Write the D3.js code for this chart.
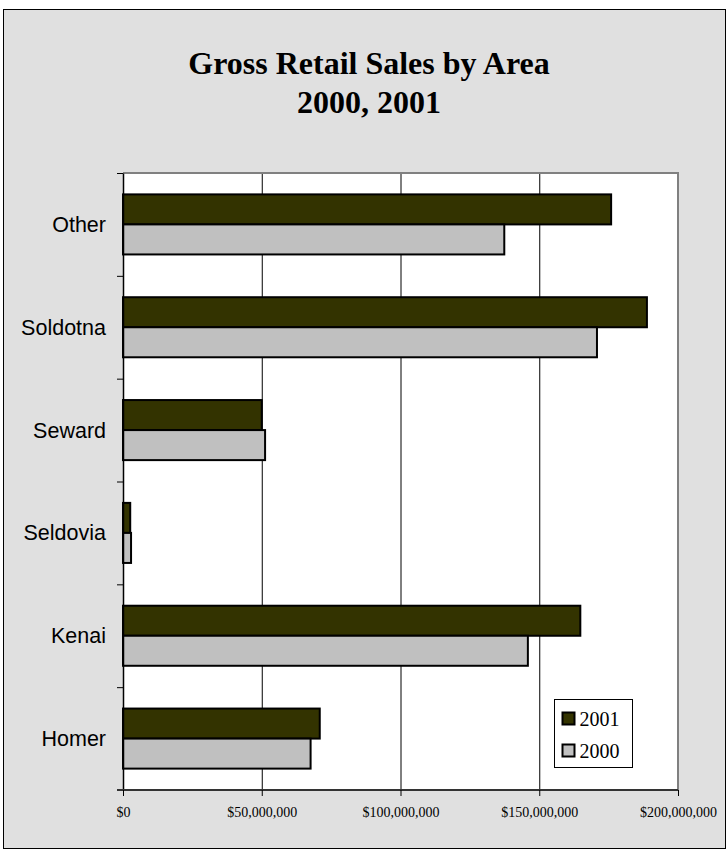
<!DOCTYPE html>
<html>
<head>
<meta charset="utf-8">
<script src="https://cdn.jsdelivr.net/npm/d3@7"></script>
<style>
  html, body { margin: 0; padding: 0; background: #ffffff; }
  svg { display: block; }
</style>
</head>
<body>
<div id="chart"></div>
<script>
// ---- data ----
const categories = ["Other", "Soldotna", "Seward", "Seldovia", "Kenai", "Homer"];
const seriesNames = ["2001", "2000"];
const values2001 = [175.9e6, 188.8e6, 50.0e6, 2.6e6, 164.8e6, 70.9e6];
const values2000 = [137.4e6, 170.8e6, 51.2e6, 2.9e6, 145.9e6, 67.6e6];
const tickValues = [0, 50e6, 100e6, 150e6, 200e6];
const tickLabels = ["$0", "$50,000,000", "$100,000,000", "$150,000,000", "$200,000,000"];
const titleLines = ["Gross Retail Sales by Area", "2000, 2001"];
const seriesColors = ["#333300", "#c0c0c0"];

const W = 728, H = 855;
const plot = { left: 123, top: 173, right: 678, bottom: 790 };

const svg = d3.select("#chart").append("svg")
  .attr("width", W).attr("height", H);

// outer frame
svg.append("rect")
  .attr("x", 3.5).attr("y", 9.5)
  .attr("width", 722).attr("height", 839)
  .attr("fill", "#e0e0e0").attr("stroke", "#000").attr("stroke-width", 1);

// title
const title = svg.append("text")
  .attr("text-anchor", "middle")
  .attr("font-family", "'Liberation Serif', 'Times New Roman', serif")
  .attr("font-weight", "bold")
  .attr("font-size", 32)
  .attr("fill", "#000");
titleLines.forEach((t, i) => {
  title.append("tspan").attr("x", 369).attr("y", 74 + i * 39).text(t);
});

// scales
const x = d3.scaleLinear().domain([0, 200e6]).range([plot.left, plot.right]);
const y = d3.scaleBand().domain(categories).range([plot.top, plot.bottom])
  .paddingInner(0.416).paddingOuter(0.208);
const ySub = d3.scaleBand().domain(seriesNames).range([0, y.bandwidth()]);

// plot background
svg.append("rect")
  .attr("x", plot.left).attr("y", plot.top)
  .attr("width", plot.right - plot.left).attr("height", plot.bottom - plot.top)
  .attr("fill", "#ffffff");

// gridlines
svg.append("g").selectAll("line")
  .data(tickValues.slice(1, -1))
  .join("line")
  .attr("x1", d => x(d) + 0.5).attr("x2", d => x(d) + 0.5)
  .attr("y1", plot.top).attr("y2", plot.bottom)
  .attr("stroke", "#000").attr("stroke-width", 1);

// plot border top/right
svg.append("path")
  .attr("d", `M${plot.left},${plot.top} H${plot.right} V${plot.bottom}`)
  .attr("fill", "none").attr("stroke", "#808080").attr("stroke-width", 2);

// bars
const rows = categories.map((c, i) => ({ cat: c, vals: [values2001[i], values2000[i]] }));
const groups = svg.append("g").selectAll("g")
  .data(rows).join("g")
  .attr("transform", d => `translate(0,${y(d.cat)})`);
groups.selectAll("rect")
  .data(d => d.vals.map((v, j) => ({ v, s: seriesNames[j], c: seriesColors[j] })))
  .join("rect")
  .attr("x", x(0))
  .attr("y", d => ySub(d.s))
  .attr("width", d => x(d.v) - x(0))
  .attr("height", ySub.bandwidth())
  .attr("fill", d => d.c)
  .attr("stroke", "#000").attr("stroke-width", 2);

// left axis (ticks at band boundaries)
const yIdx = d3.scaleLinear().domain([0, categories.length]).range([plot.top, plot.bottom]);
const leftAxis = svg.append("g")
  .attr("transform", `translate(${plot.left},0)`)
  .call(d3.axisLeft(yIdx).ticks(categories.length).tickSize(6).tickSizeOuter(0).tickFormat(""));
leftAxis.select(".domain").attr("stroke", "#000").attr("stroke-width", 1.5);
leftAxis.selectAll(".tick line").attr("stroke", "#000");

// category labels
svg.append("g").selectAll("text")
  .data(categories).join("text")
  .attr("x", 106)
  .attr("y", d => y(d) + y.bandwidth() / 2)
  .attr("dy", "0.35em")
  .attr("text-anchor", "end")
  .attr("font-family", "'Liberation Sans', Arial, sans-serif")
  .attr("font-size", 21.5)
  .attr("fill", "#000")
  .text(d => d);

// bottom axis
const bottomAxis = svg.append("g")
  .attr("transform", `translate(0,${plot.bottom})`)
  .call(d3.axisBottom(x).tickValues(tickValues).tickSize(6).tickSizeOuter(0)
    .tickFormat((d, i) => tickLabels[i]));
bottomAxis.select(".domain").attr("stroke", "#333").attr("stroke-width", 2)
  .attr("d", `M${plot.left - 6},0H${plot.right}`);
bottomAxis.selectAll(".tick line").attr("stroke", "#000");
bottomAxis.selectAll(".tick text")
  .attr("y", 17)
  .attr("font-family", "'Liberation Serif', 'Times New Roman', serif")
  .attr("font-size", 14)
  .attr("fill", "#000");

// legend
const lg = svg.append("g").attr("transform", "translate(554.5,699.5)");
lg.append("rect").attr("width", 78).attr("height", 68)
  .attr("fill", "#fff").attr("stroke", "#000").attr("stroke-width", 1);
seriesNames.forEach((s, i) => {
  const row = lg.append("g").attr("transform", `translate(0,${i * 32})`);
  row.append("rect").attr("x", 8).attr("y", 13).attr("width", 12).attr("height", 12)
    .attr("fill", seriesColors[i]).attr("stroke", "#000").attr("stroke-width", 2);
  row.append("text").attr("x", 25).attr("y", 26)
    .attr("font-family", "'Liberation Serif', 'Times New Roman', serif")
    .attr("font-size", 20).attr("fill", "#000").text(s);
});
</script>
</body>
</html>
